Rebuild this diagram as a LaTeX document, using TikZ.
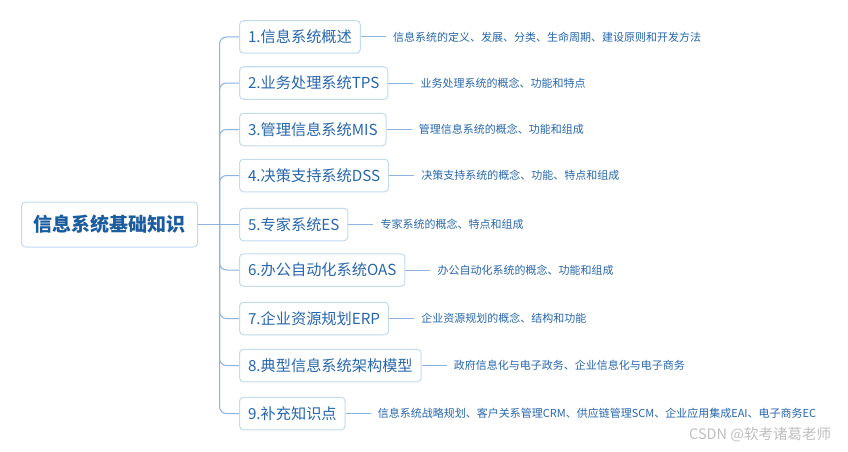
\documentclass[tikz,border=0pt]{standalone}
\usepackage{fontspec}
\newfontfamily\cjk{Noto Sans CJK SC}
\definecolor{txtblue}{HTML}{2767AE}
\definecolor{rootblue}{HTML}{1B5C9F}
\definecolor{boxline}{HTML}{C3DBEF}
\definecolor{connline}{HTML}{8DB3DF}
\definecolor{wm}{HTML}{C0C0C0}
\tikzset{
  rootbox/.style={draw=boxline, line width=1pt, rounded corners=4pt, fill=white,
    font=\cjk\bfseries\fontsize{19}{22}\selectfont, text=rootblue,
    inner xsep=12pt, minimum height=45pt, anchor=west},
  branch/.style={draw=boxline, line width=1pt, rounded corners=4pt, fill=white,
    font=\cjk\fontsize{15.2}{18}\selectfont, text=txtblue,
    inner xsep=8.5pt, minimum height=32.5pt, anchor=west},
  leaf/.style={font=\cjk\fontsize{11}{13}\selectfont, text=txtblue,
    inner xsep=7pt, inner ysep=2pt, anchor=west},
  conn/.style={draw=connline, line width=1pt},
  watermark/.style={font=\cjk\fontsize{14.5}{16}\selectfont, text=wm, anchor=west, inner sep=0pt}
}
\begin{document}
\begin{tikzpicture}[x=1pt,y=-1pt]
\useasboundingbox[fill=white] (0,0) rectangle (848,452);
\node[rootbox] (root) at (21,224.5) {信息系统基础知识};
\coordinate (fork) at (219.5,224.5);
\node[branch] (b1) at (239,37) {1.信息系统概述};
\node[branch] (b2) at (239,83) {2.业务处理系统TPS};
\node[branch] (b3) at (239,129.5) {3.管理信息系统MIS};
\node[branch] (b4) at (239,175.5) {4.决策支持系统DSS};
\node[branch] (b5) at (239,224.5) {5.专家系统ES};
\node[branch] (b6) at (239,270) {6.办公自动化系统OAS};
\node[branch] (b7) at (239,318.5) {7.企业资源规划ERP};
\node[branch] (b8) at (239,365.5) {8.典型信息系统架构模型};
\node[branch] (b9) at (239,413.5) {9.补充知识点};
\node[leaf] (l1) at ([xshift=25pt]b1.east) {信息系统的定义、发展、分类、生命周期、建设原则和开发方法};
\node[leaf] (l2) at ([xshift=25pt]b2.east) {业务处理系统的概念、功能和特点};
\node[leaf] (l3) at ([xshift=25pt]b3.east) {管理信息系统的概念、功能和组成};
\node[leaf] (l4) at ([xshift=25pt]b4.east) {决策支持系统的概念、功能、特点和组成};
\node[leaf] (l5) at ([xshift=25pt]b5.east) {专家系统的概念、特点和组成};
\node[leaf] (l6) at ([xshift=25pt]b6.east) {办公自动化系统的概念、功能和组成};
\node[leaf] (l7) at ([xshift=25pt]b7.east) {企业资源规划的概念、结构和功能};
\node[leaf] (l8) at ([xshift=25pt]b8.east) {政府信息化与电子政务、企业信息化与电子商务};
\node[leaf] (l9) at ([xshift=25pt]b9.east) {信息系统战略规划、客户关系管理CRM、供应链管理SCM、企业应用集成EAI、电子商务EC};
\draw[conn] (root.east) -- (fork);
\foreach \i in {1,2,3,4,6,7,8,9}{
  \draw[conn, rounded corners=7pt] (fork) |- (b\i.west);
}
\draw[conn] (fork) -- (b5.west);
\foreach \i in {1,...,9}{
  \draw[conn] (b\i.east) -- (l\i.west);
}
\node[watermark] (wm) at (689,435) {CSDN @软考诸葛老师};
\end{tikzpicture}
\end{document}
